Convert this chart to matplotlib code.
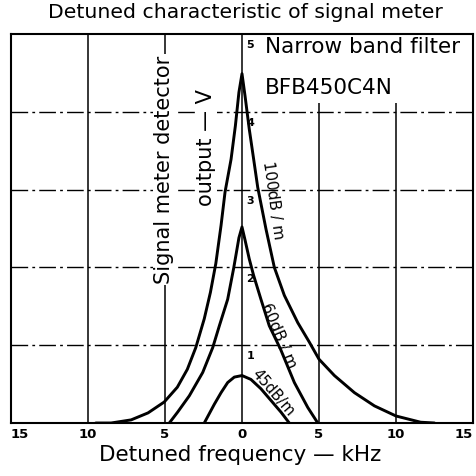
import numpy as np
import matplotlib.pyplot as plt

# D A T A  ---------------------------------------------------------------------
# detuned frequency (kHz) vs signal meter output (V)

x_100 = [-9.5, -8.5, -7.2, -6.1, -5.05, -4.2, -3.55, -3.0, -2.45, -2.05, -1.7, -1.36, -1.1,
         -0.71, -0.43, -0.2, 0.0, 0.2, 0.47, 0.75, 1.02, 1.56, 2.1, 2.75, 3.62, 4.37,
         5.0, 6.0, 7.3, 8.6, 10.0, 11.6, 12.5]
y_100 = [0.0, 0.0, 0.04, 0.13, 0.27, 0.46, 0.69, 0.97, 1.34, 1.68, 2.05, 2.54, 2.97,
         3.39, 3.82, 4.25, 4.49, 4.2, 3.78, 3.4, 3.03, 2.49, 2.0, 1.64, 1.29, 1.04,
         0.82, 0.61, 0.39, 0.22, 0.09, 0.01, 0.0]

x_60 = [-4.72, -4.18, -3.42, -2.55, -1.9, -1.47, -0.93, -0.54, -0.4, -0.2, 0.0,
        0.2, 0.47, 0.75, 1.23, 1.77, 2.5, 3.4, 4.27, 4.92]
y_60 = [0.0, 0.14, 0.35, 0.65, 0.97, 1.25, 1.59, 1.99, 2.15, 2.38, 2.52,
        2.35, 2.11, 1.9, 1.59, 1.25, 0.95, 0.52, 0.2, 0.0]

x_45 = [-2.45, -1.8, -1.36, -0.93, -0.5, 0.0, 0.58, 1.23, 1.88, 2.53, 3.07]
y_45 = [0.0, 0.24, 0.39, 0.52, 0.59, 0.61, 0.56, 0.44, 0.29, 0.14, 0.0]

curve_labels = ['100dB / m', '60dB / m', '45dB/m']

xticks = [-15, -10, -5, 0, 5, 10, 15]
xtick_labels = ['15', '10', '5', '0', '5', '10', '15']
yticks = [1, 2, 3, 4, 5]

# P L O T  ---------------------------------------------------------------------
plt.rcParams['font.family'] = ['DejaVu Sans']

fig = plt.figure(figsize=(4.76, 4.77), dpi=100)
ax = fig.add_axes([11 / 476, 53 / 477, 462 / 476, 389 / 477])
ax.set_xlim(-15, 15)
ax.set_ylim(0, 5)

# grid: solid verticals, dash-dot horizontals
for xv in [-10, -5, 0, 5, 10]:
    ax.axvline(xv, color='black', lw=1.1, zorder=1)
for yv in [1, 2, 3, 4]:
    ax.axhline(yv, color='black', lw=1.0, dashes=(12, 3, 2, 3), zorder=1)

for xs, ys in [(x_100, y_100), (x_60, y_60), (x_45, y_45)]:
    ax.plot(xs, ys, color='black', lw=2.1, zorder=3,
            solid_joinstyle='round', solid_capstyle='round')

# curve labels along the slopes
ax.text(2.0, 2.88, curve_labels[0], rotation=-82, fontsize=11, ha='center', va='center')
ax.text(2.35, 1.14, curve_labels[1], rotation=-67, fontsize=11, ha='center', va='center')
ax.text(2.05, 0.40, curve_labels[2], rotation=-49, fontsize=10.5, ha='center', va='center')

# y values written next to the centre line
for yv in yticks:
    ax.text(0.3, yv - 0.13, str(yv), fontsize=8, fontweight='bold', ha='left', va='center')

# axis titles drawn inside the grid
ax.text(-5.06, 3.26, 'Signal meter detector', rotation=90, fontsize=15,
        ha='center', va='center', zorder=2,
        bbox=dict(facecolor='white', edgecolor='none', pad=1))
ax.text(-2.34, 3.55, 'output \u2014 V', rotation=90, fontsize=15,
        ha='center', va='center', zorder=2,
        bbox=dict(facecolor='white', edgecolor='none', pad=1))
ax.text(1.5, 4.58, 'Narrow band filter\nBFB450C4N', fontsize=15.5,
        ha='left', va='center', linespacing=2.3, zorder=2,
        bbox=dict(facecolor='white', edgecolor='none', pad=4))

ax.set_xticks(xticks)
ax.set_xticklabels(xtick_labels, fontsize=9.5, fontweight='bold')
labels = ax.get_xticklabels()
labels[0].set_ha('left')
labels[-1].set_ha('right')
ax.set_yticks([])
ax.tick_params(axis='x', length=0, pad=3)
for s in ax.spines.values():
    s.set_linewidth(1.5)

fig.text(0.515, 1 - 13 / 477, 'Detuned characteristic of signal meter',
         fontsize=14.7, ha='center', va='center')
fig.text(0.504, 1 - 455 / 477, 'Detuned frequency \u2014 kHz',
         fontsize=15.5, ha='center', va='center')

fig.savefig('out.png', dpi=100)
